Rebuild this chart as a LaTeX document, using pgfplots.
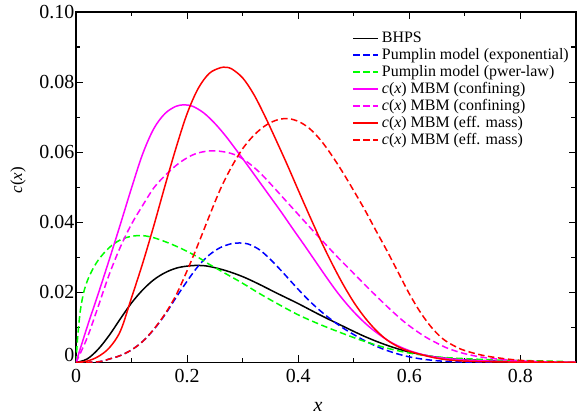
\documentclass[border=0pt]{standalone}
\usepackage{pgfplots}
\pgfplotsset{compat=1.18}
\usepackage{fontspec}
\setmainfont{Liberation Serif}
\definecolor{cblue}{RGB}{0,0,255}
\definecolor{cgreen}{RGB}{0,255,0}
\definecolor{cmag}{RGB}{255,0,255}
\definecolor{cred}{RGB}{255,0,0}
\tikzset{mydash/.style={dash pattern=on 6.5bp off 3.5bp}}
\begin{document}
\begin{tikzpicture}
\path[use as bounding box] (-76bp,-54.5bp) rectangle (504bp,362.5bp);
\begin{axis}[
  at={(0,0)}, anchor=south west,
  scale only axis, width=500bp, height=350.5bp,
  xmin=0, xmax=0.9, ymin=0, ymax=0.1,
  xtick={0,0.2,0.4,0.6,0.8},
  xticklabels={0,0.2,0.4,0.6,0.8},
  minor xtick={0.1,0.3,0.5,0.7},
  ytick={0.02,0.04,0.06,0.08,0.1},
  yticklabels={0.02,0.04,0.06,0.08,0.10},
  extra y ticks={0},
  extra y tick labels={0},
  extra y tick style={yticklabel style={yshift=8bp}},
  minor ytick={0.01,0.03,0.05,0.07,0.09},
  scaled y ticks=false,
  tick align=inside,
  tick pos=both,
  major tick length=7bp,
  minor tick length=4.5bp,
  every tick/.style={black, line width=1.1bp},
  axis line style={line width=1.3bp},
  ticklabel style={font=\fontsize{20}{20}\selectfont},
  xticklabel style={inner sep=0pt, yshift=-6.5bp},
  yticklabel style={inner sep=1.5bp},
  xlabel={\textit{x}},
  ylabel={\textit{c}(\textit{x})},
  xlabel style={at={(axis description cs:0.484,0)}, anchor=base, yshift=-49bp, font=\fontsize{20}{20}\selectfont},
  ylabel style={at={(axis description cs:-0.116,0.52)}, anchor=center, font=\fontsize{17}{17}\selectfont},
  legend cell align=left,
  legend image code/.code={\draw[mark repeat=2,mark phase=2,#1] plot coordinates {(0bp,0bp) (12.5bp,0bp) (25bp,0bp)};},
  legend style={at={(axis cs:0.4973,0.0948)}, anchor=north west, draw=none, fill=none,
    inner sep=0pt, font=\fontsize{16}{16}\selectfont, row sep=0.3bp, column sep=1bp},
]
\addplot[color=black, line width=1.5bp, smooth, tension=0.55] coordinates {
(0,0) (0.02,0.0010) (0.04,0.0038) (0.06,0.0078) (0.08,0.0125) (0.10,0.0170)
(0.12,0.0207) (0.14,0.0236) (0.16,0.0256) (0.18,0.0269) (0.20,0.0275) (0.22,0.0277)
(0.24,0.0274) (0.27,0.0262) (0.30,0.0245) (0.33,0.0223) (0.36,0.0199) (0.40,0.0168)
(0.44,0.0135) (0.48,0.0104) (0.52,0.0074) (0.56,0.0049) (0.60,0.0030) (0.65,0.0015)
(0.70,0.0008) (0.80,0.0002) (0.90,0.0000)};
\addlegendentry{BHPS}
\addplot[color=cblue, mydash, line width=1.5bp, smooth, tension=0.55] coordinates {
(0,0) (0.04,0.0002) (0.06,0.0010) (0.08,0.0020) (0.10,0.0036) (0.12,0.0060)
(0.14,0.0094) (0.16,0.0136) (0.18,0.0185) (0.20,0.0232) (0.22,0.0275) (0.24,0.0307)
(0.26,0.0328) (0.28,0.0339) (0.295,0.0341) (0.31,0.0338) (0.33,0.0322) (0.35,0.0294)
(0.37,0.0261) (0.39,0.0226) (0.41,0.0192) (0.43,0.0161) (0.45,0.0134) (0.47,0.0110)
(0.49,0.0089) (0.52,0.0062) (0.55,0.0040) (0.58,0.0024) (0.61,0.0013) (0.65,0.0005)
(0.70,0.0001) (0.75,0)};
\addlegendentry{Pumplin model (exponential)}
\addplot[color=cgreen, mydash, line width=1.5bp, smooth, tension=0.55] coordinates {
(0,0) (0.003,0.0072) (0.008,0.0150) (0.015,0.0207) (0.025,0.0250) (0.04,0.0292)
(0.06,0.0328) (0.08,0.0350) (0.10,0.0360) (0.12,0.0362) (0.14,0.0356) (0.16,0.0345)
(0.18,0.0332) (0.20,0.0317) (0.22,0.0300) (0.24,0.0280) (0.27,0.0253) (0.30,0.0226)
(0.33,0.0197) (0.36,0.0170) (0.40,0.0136) (0.44,0.0108) (0.48,0.0083) (0.52,0.0060)
(0.56,0.0041) (0.60,0.0027) (0.65,0.0016) (0.70,0.0011) (0.76,0.0007) (0.82,0.0005)
(0.88,0.0003)};
\addlegendentry{Pumplin model (pwer-law)}
\addplot[color=cmag, line width=1.5bp, smooth, tension=0.55] coordinates {
(0,0) (0.02,0.0101) (0.04,0.0196) (0.06,0.0294) (0.08,0.0395) (0.10,0.0498)
(0.12,0.0595) (0.14,0.0667) (0.16,0.0710) (0.18,0.0731) (0.195,0.0735) (0.21,0.0731)
(0.23,0.0712) (0.25,0.0682) (0.27,0.0645) (0.29,0.0603) (0.31,0.0560) (0.33,0.0516)
(0.35,0.0472) (0.37,0.0428) (0.39,0.0382) (0.41,0.0337) (0.43,0.0291) (0.45,0.0245)
(0.47,0.0201) (0.49,0.0162) (0.51,0.0128) (0.53,0.0099) (0.55,0.0075) (0.57,0.0055)
(0.60,0.0034) (0.64,0.0017) (0.70,0.0007) (0.80,0.0002) (0.90,0)};
\addlegendentry{\textit{c}(\textit{x}) MBM (confining)}
\addplot[color=cmag, mydash, line width=1.5bp, smooth, tension=0.55] coordinates {
(0,0) (0.02,0.0070) (0.04,0.0160) (0.06,0.0252) (0.08,0.0330) (0.10,0.0395)
(0.12,0.0448) (0.14,0.0498) (0.16,0.0533) (0.18,0.0562) (0.20,0.0584) (0.22,0.0598)
(0.245,0.0604) (0.27,0.0600) (0.29,0.0590) (0.31,0.0570) (0.33,0.0543) (0.35,0.0510)
(0.37,0.0475) (0.39,0.0440) (0.41,0.0405) (0.43,0.0370) (0.45,0.0336) (0.47,0.0302)
(0.49,0.0270) (0.51,0.0238) (0.53,0.0206) (0.55,0.0175) (0.57,0.0145) (0.59,0.0117)
(0.61,0.0093) (0.63,0.0072) (0.65,0.0055) (0.67,0.0040) (0.70,0.0025) (0.74,0.0013)
(0.80,0.0005) (0.86,0.0001) (0.90,0)};
\addlegendentry{\textit{c}(\textit{x}) MBM (confining)}
\addplot[color=cred, line width=1.5bp, smooth, tension=0.55] coordinates {
(0,0) (0.02,0.0004) (0.04,0.0017) (0.06,0.0042) (0.08,0.0090) (0.10,0.0185)
(0.12,0.0283) (0.14,0.0390) (0.16,0.0503) (0.18,0.0612) (0.20,0.0710) (0.22,0.0782)
(0.24,0.0825) (0.26,0.0841) (0.27,0.0842) (0.28,0.0838) (0.30,0.0812) (0.32,0.0765)
(0.34,0.0703) (0.36,0.0635) (0.38,0.0565) (0.40,0.0492) (0.42,0.0420) (0.44,0.0350)
(0.46,0.0285) (0.48,0.0225) (0.50,0.0172) (0.52,0.0128) (0.54,0.0092) (0.56,0.0064)
(0.58,0.0045) (0.60,0.0032) (0.65,0.0012) (0.70,0.0004) (0.80,0.0001) (0.90,0)};
\addlegendentry{\textit{c}(\textit{x}) MBM (eff. mass)}
\addplot[color=cred, mydash, line width=1.5bp, smooth, tension=0.55] coordinates {
(0,0) (0.04,0.0002) (0.06,0.0010) (0.08,0.0020) (0.10,0.0036) (0.12,0.0060)
(0.14,0.0095) (0.16,0.0138) (0.18,0.0192) (0.20,0.0262) (0.22,0.0338) (0.24,0.0418)
(0.26,0.0495) (0.28,0.0558) (0.30,0.0610) (0.32,0.0648) (0.34,0.0675) (0.36,0.0691)
(0.38,0.0696) (0.40,0.0688) (0.42,0.0668) (0.44,0.0635) (0.46,0.0592) (0.48,0.0543)
(0.50,0.0490) (0.52,0.0435) (0.54,0.0376) (0.56,0.0318) (0.58,0.0257) (0.60,0.0196)
(0.62,0.0143) (0.64,0.0100) (0.66,0.0068) (0.68,0.0048) (0.70,0.0034) (0.74,0.0018)
(0.80,0.0006) (0.86,0.0002) (0.90,0)};
\addlegendentry{\textit{c}(\textit{x}) MBM (eff. mass)}
\end{axis}
\end{tikzpicture}
\end{document}
